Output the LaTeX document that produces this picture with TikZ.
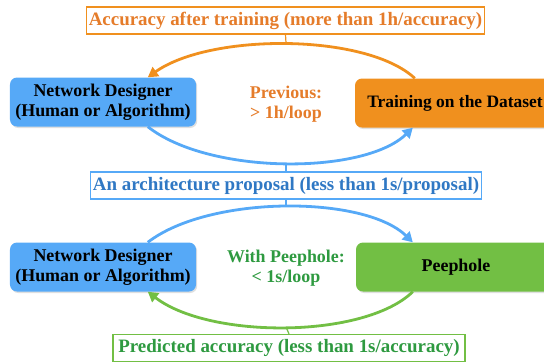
\documentclass[tikz,border=0pt]{standalone}
\usepackage{fontspec}
\setmainfont{Liberation Serif}
\usetikzlibrary{positioning,arrows.meta,shadows}
\definecolor{bfill}{HTML}{56A9F7}
\definecolor{ofill}{HTML}{F0901E}
\definecolor{gfill}{HTML}{72BF44}
\definecolor{btext}{HTML}{2F78C4}
\definecolor{otext}{HTML}{E57C2A}
\definecolor{gtext}{HTML}{2E9A40}

\begin{document}
\begin{tikzpicture}
	[x=1bp, y=-1bp,
	every node/.style={font=\bfseries\fontsize{18}{20}\selectfont, align=center, inner sep=2bp},
	box/.style={rounded corners=7bp, minimum height=49bp, drop shadow={shadow xshift=1.2bp, shadow yshift=-1.5bp, opacity=0.25}},
	tag/.style={draw, line width=1.2bp, fill=white, minimum height=27bp, font=\bfseries\fontsize{19}{21}\selectfont},
	flowarc/.style={line width=2.8bp, -{Triangle[width=11bp,length=10bp]}}]
	\useasboundingbox (0,0) rectangle (544,362);
	\clip (0,0) rectangle (544,362);
	% upper loop: training
	\node (acc) [tag, draw=ofill, text=otext, minimum width=395bp] at (285.5,20.5) {Accuracy after training (more than 1h/accuracy)};
	\node (des1) [box, fill=bfill, minimum width=186bp] at (103,102) {Network Designer\\(Human or Algorithm)};
	\node (train) [box, fill=ofill, minimum width=200bp, font=\bfseries\fontsize{17.5}{20}\selectfont] at (455,103) {Training on the Dataset};
	\node (prev) [text=otext] at (286,104) {Previous:\\\textgreater{} 1h/loop};
	\node (arch) [tag, draw=bfill, text=btext, minimum width=391bp] at (286,185.5) {An architecture proposal (less than 1s/proposal)};
	\coordinate (top1) at (286,43);
	\coordinate (bot1) at (286,163);
	\draw [flowarc, ofill] ([xshift=60bp]train.north west) .. controls (366,33) and (210,33) .. ([xshift=138bp]des1.north west);
	\draw [flowarc, bfill] ([xshift=138bp]des1.south west) .. controls (209,175) and (364,175) .. ([xshift=58bp]train.south west);
	\draw [line width=1.2bp, ofill] (acc.south) -- (top1);
	\draw [line width=1.2bp, bfill] (bot1) -- (arch.north);
	% lower loop: peephole
	\node (des2) [box, fill=bfill, minimum width=186bp] at (103,267) {Network Designer\\(Human or Algorithm)};
	\node (peep) [box, fill=gfill, minimum width=200bp] at (456,267) {Peephole};
	\node (with) [text=gtext] at (286,268) {With Peephole:\\\textless{} 1s/loop};
	\node (pred) [tag, draw=gfill, text=gtext, minimum width=352bp] at (289,348) {Predicted accuracy (less than 1s/accuracy)};
	\coordinate (top2) at (286,207);
	\coordinate (bot2) at (286,327);
	\draw [flowarc, bfill] ([xshift=138bp]des2.north west) .. controls (209,195) and (364,195) .. ([xshift=57bp]peep.north west);
	\draw [flowarc, gfill] ([xshift=57bp]peep.south west) .. controls (364,339) and (209,339) .. ([xshift=138bp]des2.south west);
	\draw [line width=1.2bp, bfill] (arch.south) -- (top2);
	\draw [line width=1.2bp, gfill] (bot2) -- (pred.north);
\end{tikzpicture}
\end{document}
